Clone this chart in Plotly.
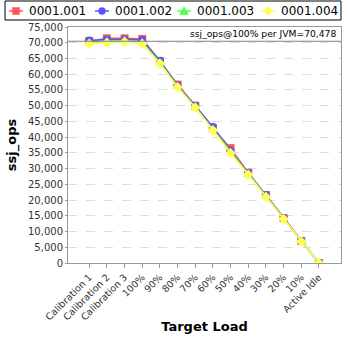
import plotly.graph_objects as go

categories = ["Calibration 1", "Calibration 2", "Calibration 3", "100%", "90%", "80%", "70%",
              "60%", "50%", "40%", "30%", "20%", "10%", "Active Idle"]
s001 = [70500, 71400, 71400, 71200, 64200, 56700, 50000, 42800, 36500, 28700, 21600, 14300, 7000, 0]
s002 = [70700, 71000, 71000, 70900, 64300, 56300, 50000, 43200, 35700, 28600, 21600, 14300, 7000, 0]
s003 = [70000, 70500, 70600, 70100, 63700, 56000, 49600, 42500, 35300, 28200, 21300, 14100, 6900, 0]
s004 = [69700, 70000, 70300, 69700, 63400, 55900, 49400, 42200, 34900, 28100, 21000, 14000, 6800, 0]
series_names = ["0001.001", "0001.002", "0001.003", "0001.004"]
avg_100 = 70478
y_ticks = list(range(0, 75001, 5000))

colors = ["#FF5555", "#5555FF", "#55FF55", "#FFFF55"]
symbols = ["square", "circle", "triangle-up", "diamond"]
FONT = "DejaVu Sans"

W, H = 348, 348
ML, MR, MT, MB = 68, 7, 27, 85
PW, PH = W - ML - MR, H - MT - MB


def px_x(p):
    return (p - ML) / PW


def px_y(p):
    return (H - MB - p) / PH


fig = go.Figure()
xs = list(range(len(categories)))
for name, vals, c, sym in zip(series_names, [s001, s002, s003, s004], colors, symbols):
    fig.add_trace(go.Scatter(
        x=xs, y=vals, name=name, mode="lines+markers",
        line=dict(color=c, width=1.5),
        marker=dict(symbol=sym, size=8, color=c),
        showlegend=False,
    ))

fig.add_shape(type="line", xref="paper", x0=0, x1=1, yref="y", y0=avg_100, y1=avg_100,
              line=dict(color="#808080", width=1.2))
fig.add_annotation(xref="paper", x=0.99, yref="y", y=avg_100, yanchor="bottom", xanchor="right",
                   text=f"ssj_ops@100% per JVM={avg_100:,}", showarrow=False,
                   font=dict(family=FONT, size=9.2, color="#000000"))

# Manual single-row legend (box, line + glyph, real text labels)
fig.add_shape(type="rect", xref="paper", yref="paper",
              x0=px_x(5), x1=px_x(341), y0=px_y(20), y1=px_y(1),
              line=dict(color="#000000", width=1), fillcolor="white", layer="above")
leg_centers = [16, 102, 184, 268]
leg_y = px_y(11)
glyph_paths = {
    "triangle-up": "M0,4.5 L4.5,-3.5 L-4.5,-3.5 Z",
    "diamond": "M0,4.5 L4.5,0 L0,-4.5 L-4.5,0 Z",
}
for m, name, c, sym in zip(leg_centers, series_names, colors, symbols):
    fig.add_shape(type="line", xref="paper", yref="paper",
                  x0=px_x(m - 7), x1=px_x(m + 7), y0=leg_y, y1=leg_y,
                  line=dict(color=c, width=1.5))
    common = dict(xref="paper", yref="paper", xsizemode="pixel", ysizemode="pixel",
                  xanchor=px_x(m), yanchor=leg_y, fillcolor=c, line=dict(color=c, width=0.5))
    if sym == "square":
        fig.add_shape(type="rect", x0=-3.5, x1=3.5, y0=-3.5, y1=3.5, **common)
    elif sym == "circle":
        fig.add_shape(type="circle", x0=-3.5, x1=3.5, y0=-3.5, y1=3.5, **common)
    else:
        fig.add_shape(type="path", path=glyph_paths[sym], **common)
    fig.add_annotation(xref="paper", yref="paper", x=px_x(m + 11), y=leg_y,
                       xanchor="left", yanchor="middle", text=name, showarrow=False,
                       font=dict(family=FONT, size=12, color="#000000"))

fig.update_layout(
    width=W, height=H,
    margin=dict(l=ML, r=MR, t=MT, b=MB, autoexpand=False),
    paper_bgcolor="white", plot_bgcolor="white",
    font=dict(family=FONT, size=10, color="#333333"),
    showlegend=False,
    xaxis=dict(
        tickmode="array", tickvals=xs, ticktext=categories, tickangle=-45,
        range=[-1.2, 14.25], showgrid=False, zeroline=False,
        showline=True, linecolor="#999999", mirror=True,
        ticks="outside", ticklen=4, tickcolor="#999999",
        tickfont=dict(family=FONT, size=9.5, color="#333333"),
        title=dict(text="<b>Target Load</b>", font=dict(family=FONT, size=13, color="#000000"), standoff=0),
    ),
    yaxis=dict(
        range=[0, 75000], tickvals=y_ticks, tickformat=",d",
        showgrid=True, gridcolor="#DDDDDD", griddash="dash", zeroline=False,
        showline=True, linecolor="#999999", mirror=True,
        ticks="outside", ticklen=2, tickcolor="#999999",
        tickfont=dict(family=FONT, size=10, color="#333333"),
        title=dict(text="<b>ssj_ops</b>", font=dict(family=FONT, size=13, color="#000000"), standoff=8),
    ),
)

fig.write_html("out.html")
